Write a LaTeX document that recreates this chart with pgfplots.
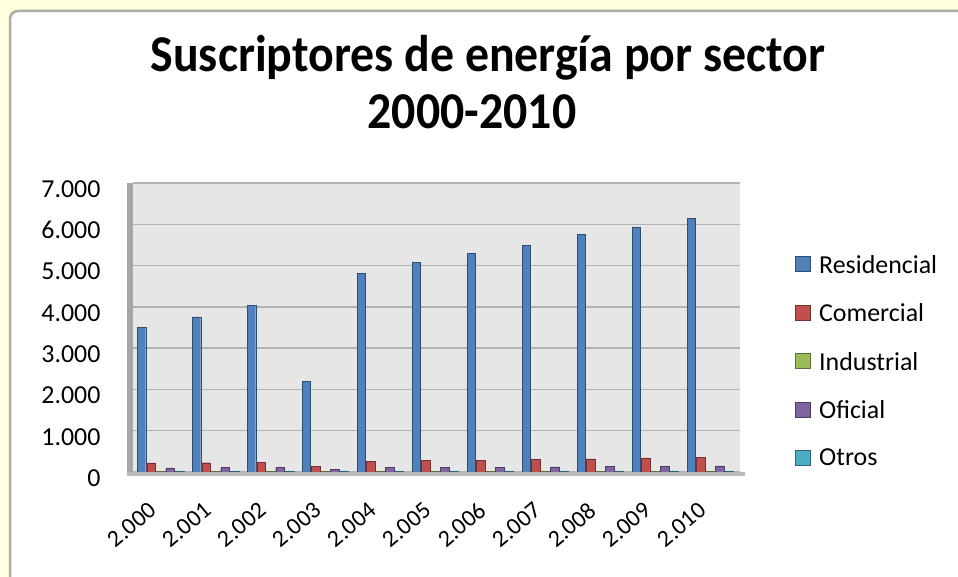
\documentclass[border=0pt]{standalone}
\usepackage{pgfplots}
\pgfplotsset{compat=1.18}
\usepackage{pgfplotstable}
\usepackage{fontspec}
\setmainfont{Carlito}
\definecolor{cblue}{HTML}{4F81BD}
\definecolor{cred}{HTML}{C0504D}
\definecolor{cgreen}{HTML}{9BBB59}
\definecolor{cpurple}{HTML}{8064A2}
\definecolor{ccyan}{HTML}{4BACC6}
\definecolor{ybg}{RGB}{255,255,221}
\definecolor{wallg}{RGB}{230,230,230}
\pgfplotstableread{
x res com ind ofi otr
0 3500 220 20 100 30
1 3760 225 20 105 30
2 4040 230 20 105 30
3 2190 130 15 60 25
4 4810 250 20 110 30
5 5080 280 20 115 30
6 5290 290 20 120 30
7 5490 310 20 125 30
8 5750 320 20 130 30
9 5930 340 20 145 30
10 6140 350 20 150 30
}\datatable
\begin{document}
\begin{tikzpicture}
\fill[ybg] (0bp,0bp) rectangle (958bp,577bp);
\path[use as bounding box] (0bp,0bp) rectangle (958bp,577bp);
\filldraw[fill=white, draw=gray!65, line width=2.5bp, rounded corners=8bp] (10bp,-20bp) rectangle (975bp,566bp);
\node[font=\fontsize{48}{50}\selectfont\bfseries, anchor=base] at (488bp,505bp) {\scalebox{1}[1.08]{Suscriptores de energía por sector}};
\node[font=\fontsize{48}{50}\selectfont\bfseries, anchor=base] at (472bp,448bp) {\scalebox{1}[1.08]{2000-2010}};
\begin{axis}[
  name=ax,
  at={(133bp,105bp)}, anchor=south west,
  width=607bp, height=289bp, scale only axis,
  ybar=1bp, bar width=8.5bp,
  ymin=0, ymax=7000, xmin=-0.5, xmax=10.54,
  ytick={0,1000,...,7000},
  xtick={0,...,10},
  xticklabels={2.000,2.001,2.002,2.003,2.004,2.005,2.006,2.007,2.008,2.009,2.010},
  /pgf/number format/.cd, 1000 sep={.}, assume math mode=true, /pgfplots/.cd,
  yticklabel style={font=\fontsize{26}{30}\selectfont, yshift=-6bp, xshift=-29bp},
  xticklabel style={font=\fontsize{24}{28}\selectfont, xshift=-5bp, yshift=-33bp, rotate=40, anchor=east},
  major tick length=0pt,
  ymajorgrids, grid style={gray!60, line width=1.3bp},
  axis background/.style={fill=wallg},
  axis line style={draw=none},
  axis x line*=bottom, axis y line*=left,
  legend style={at={(1.085,0.765)}, anchor=north west, draw=none, fill=none,
    font=\fontsize{26}{30}\selectfont, row sep=25bp},
  legend cell align=left,
  legend image code/.code={\path[draw=none,fill=none] (-14bp,0bp) -- (8bp,0bp);\draw[#1, line width=0.8bp] (-14bp,-7bp) rectangle (1bp,8bp);},
]
\addplot[fill=cblue, draw=cblue!60!black] table[x=x,y=res]{\datatable};
\addplot[fill=cred, draw=cred!60!black] table[x=x,y=com]{\datatable};
\addplot[fill=cgreen, draw=cgreen!60!black] table[x=x,y=ind]{\datatable};
\addplot[fill=cpurple, draw=cpurple!60!black] table[x=x,y=ofi]{\datatable};
\addplot[fill=ccyan, draw=ccyan!60!black] table[x=x,y=otr]{\datatable};
\legend{Residencial,Comercial,Industrial,Oficial,Otros}
\end{axis}
\draw[gray!70, line width=6bp] ([xshift=-3bp,yshift=-2bp]ax.south west) -- ([xshift=-3bp]ax.north west);
\draw[gray!55, line width=4bp] ([xshift=-6bp,yshift=-2bp]ax.south west) -- ([xshift=5bp,yshift=-2bp]ax.south east);
\end{tikzpicture}
\end{document}
